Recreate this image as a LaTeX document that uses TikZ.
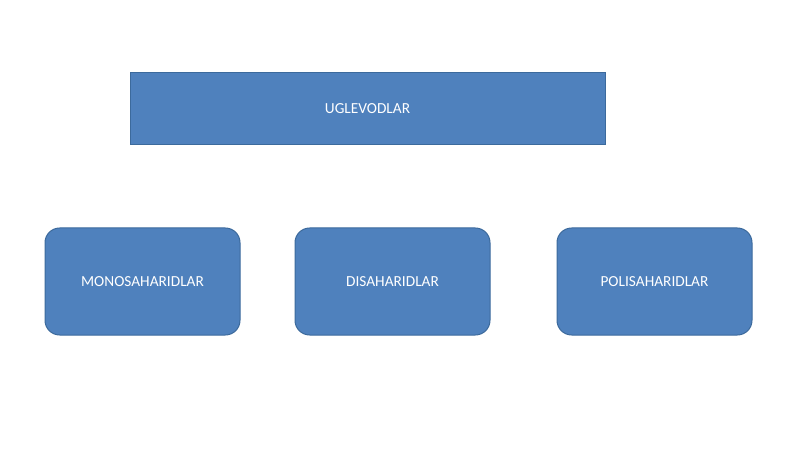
\documentclass[tikz,border=0pt]{standalone}
\usepackage{fontspec}
\setmainfont{Carlito}
\usetikzlibrary{positioning}

\definecolor{boxfill}{HTML}{4F81BD}
\definecolor{boxline}{HTML}{3C6A9C}

\begin{document}
\begin{tikzpicture}[
    x=0.75pt, y=-0.75pt,
    title_box/.style={rectangle, draw=boxline, fill=boxfill, line width=0.75pt,
        minimum width=356.25pt, minimum height=54pt, inner sep=0pt, outer sep=0pt,
        text=white, font=\fontsize{11.5}{13}\selectfont},
    kind_box/.style={rectangle, rounded corners=11pt, draw=boxline, fill=boxfill, line width=0.75pt,
        minimum width=146.25pt, minimum height=80.25pt, inner sep=0pt, outer sep=0pt,
        text=white, font=\fontsize{11.5}{13}\selectfont}
]

\useasboundingbox (0,0) rectangle (800,449);

% Top node
\node[title_box] (uglevod) at (367.5,109) {UGLEVODLAR};

% Row of kinds
\node[kind_box] (mono) at (142.5,281.5) {MONOSAHARIDLAR};
\node[kind_box, right=41.25pt of mono] (di) {DISAHARIDLAR};
\node[kind_box, right=50.25pt of di] (poli) {POLISAHARIDLAR};

\end{tikzpicture}
\end{document}
